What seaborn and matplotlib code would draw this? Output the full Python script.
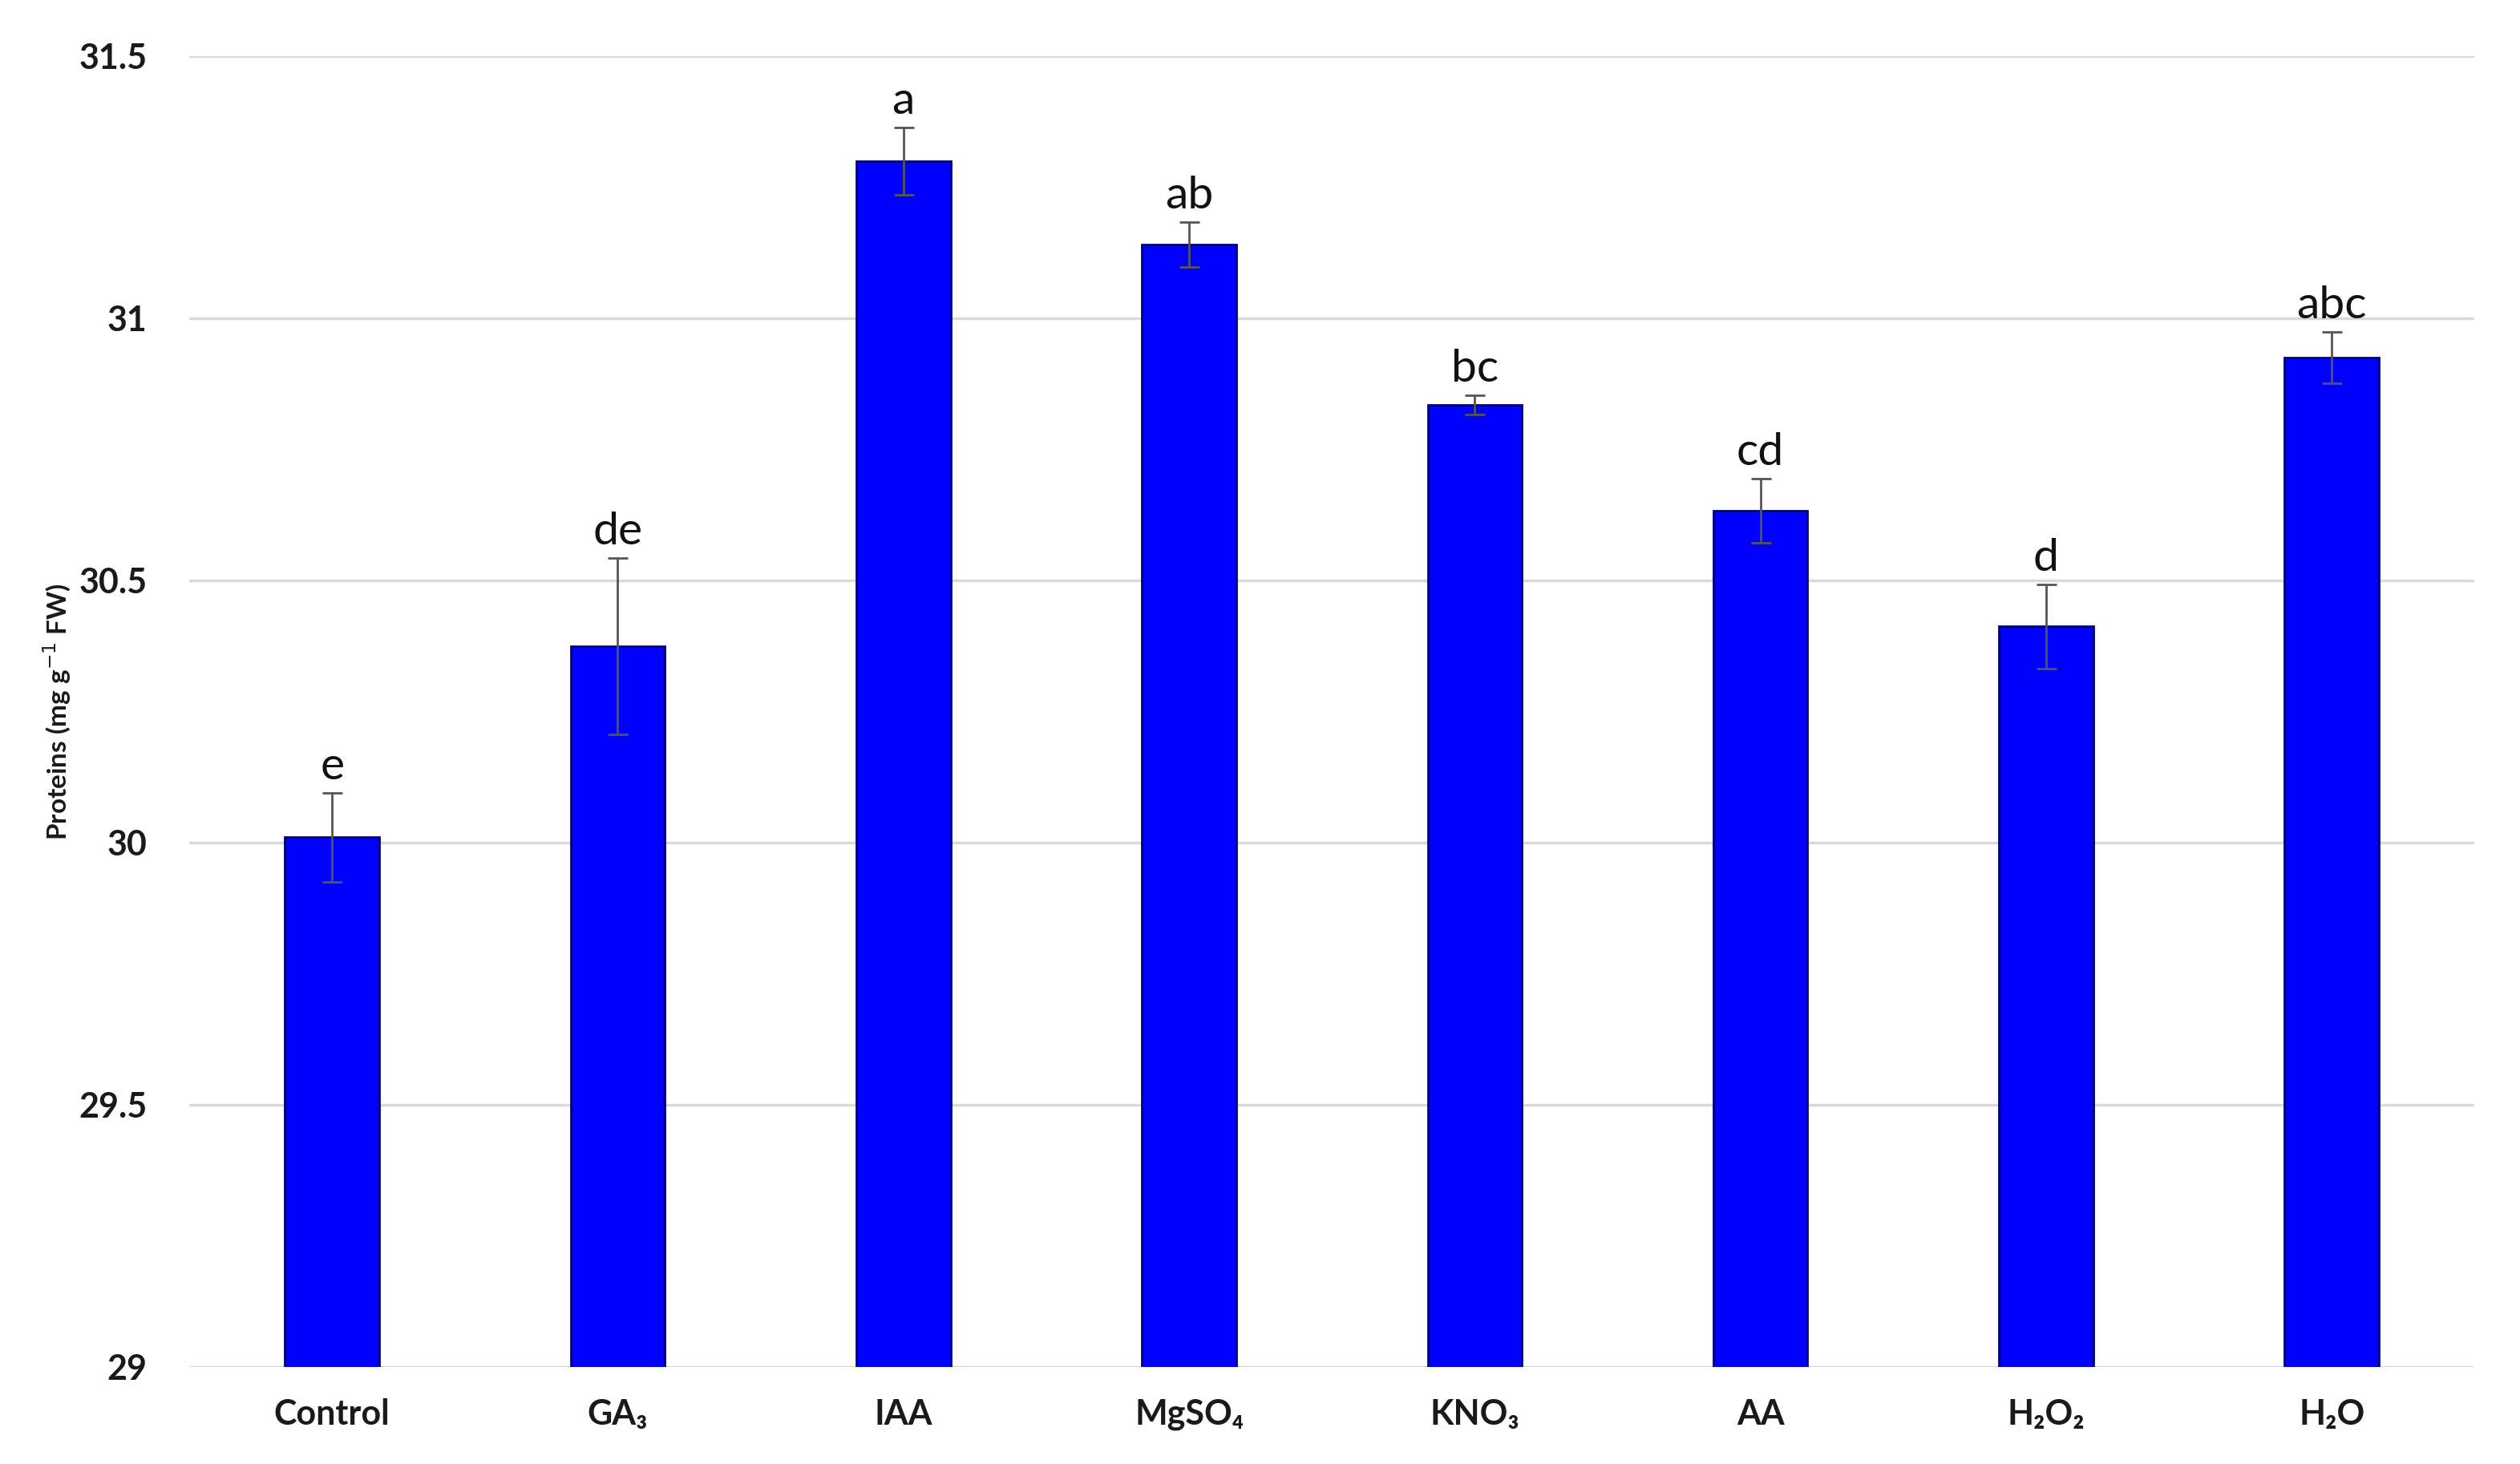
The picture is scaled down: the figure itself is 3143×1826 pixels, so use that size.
import numpy as np
import pandas as pd
import matplotlib
matplotlib.use("Agg")
import matplotlib.pyplot as plt
import seaborn as sns

# treatments and protein content
treatments = ["Control", "GA₃", "IAA", "MgSO₄", "KNO₃", "AA", "H₂O₂", "H₂O"]
proteins = [30.01, 30.375, 31.30, 31.14, 30.835, 30.633, 30.412, 30.925]
errors = [0.085, 0.168, 0.064, 0.043, 0.018, 0.061, 0.08, 0.049]
letters = ["e", "de", "a", "ab", "bc", "cd", "d", "abc"]

df = pd.DataFrame({"Treatment": treatments, "Proteins": proteins})

sns.set_style("white")
plt.rcParams['font.family'] = ['Lato', 'DejaVu Sans']

fig = plt.figure(figsize=(31.43, 18.26), dpi=100)
ax = fig.add_axes([0.0751, 0.0663, 0.9069, 0.8954])

sns.barplot(data=df, x="Treatment", y="Proteins", color="#0000FF",
            saturation=1, width=0.33, errorbar=None,
            edgecolor="#00007a", linewidth=2, ax=ax, zorder=3)

ax.errorbar(np.arange(len(treatments)), proteins, yerr=errors, fmt="none",
            ecolor="#555555", elinewidth=2, capsize=9, capthick=2, zorder=4)

for i, (v, e, lab) in enumerate(zip(proteins, errors, letters)):
    ax.annotate(lab, (i, v + e), xytext=(0, 5), textcoords="offset points",
                ha="center", va="bottom", fontsize=41, color="#111111")

ax.set_ylim(29, 31.5)
ax.set_xlim(-0.5, len(treatments) - 0.5)
ax.set_yticks([29, 29.5, 30, 30.5, 31, 31.5])
ax.set_yticklabels(["29", "29.5", "30", "30.5", "31", "31.5"])
ax.yaxis.grid(True, color="#d9d9d9", linewidth=2.5, zorder=0)
ax.set_axisbelow(True)
for s in ax.spines.values():
    s.set_visible(False)

ax.tick_params(axis="y", length=0, pad=38, labelsize=31)
ax.tick_params(axis="x", length=0, pad=28, labelsize=31)
for t in ax.get_yticklabels() + ax.get_xticklabels():
    t.set_fontweight("bold")
    t.set_color("#1a1a1a")

ax.set_xlabel("")
ax.set_ylabel(r"Proteins (mg g$^{-1}$ FW)", fontsize=24, fontweight="bold",
              color="#1a1a1a")
ax.yaxis.set_label_coords(-0.051, 0.5)

plt.savefig("out.png", dpi=100)
